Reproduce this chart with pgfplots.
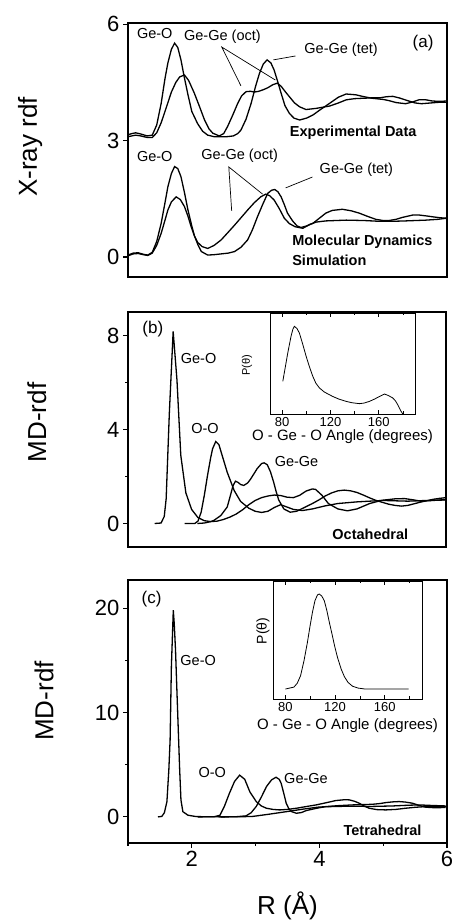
\documentclass[border=0pt]{standalone}
\usepackage{pgfplots}
\pgfplotsset{compat=1.18}
\usepackage{fontspec}
\setmainfont{Liberation Sans}
\newcommand{\lab}{\fontsize{14.5}{17}\selectfont}
\pgfplotsset{
  mainax/.style={scale only axis, anchor=south west, xmin=1, xmax=6,
    axis line style={line width=1.1pt}, tick style={line width=1.1pt, black},
    tick align=outside, ytick pos=left, xtick pos=left,
    major tick length=5pt, minor tick length=3pt,
    tick label style={font=\fontsize{22}{24}\selectfont},
    label style={font=\fontsize{26}{30}\selectfont},
    /pgf/number format/assume math mode=true,
    every axis plot post/.append style={black, line width=1.3pt, mark=none}},
  inax/.style={scale only axis, anchor=south west, xmin=70, xmax=190,
    axis background/.style={fill=white},
    axis line style={line width=0.8pt}, tick style={line width=0.8pt, black},
    tick align=inside, xtick={80,120,160}, minor xtick={100,140,180}, ytick=\empty,
    major tick length=4pt, minor tick length=2.5pt,
    tick label style={font=\fontsize{13}{15}\selectfont},
    /pgf/number format/assume math mode=true,
    every axis plot post/.append style={black, line width=0.8pt, mark=none}},
}
\begin{document}
\begin{tikzpicture}[x=1pt,y=1pt]
\path[use as bounding box] (0,0) rectangle (454,920);
% ---------------- panel (a)
\begin{axis}[mainax, at={(128pt,643pt)}, width=319pt, height=254pt,
  ymin=-0.515, ymax=6.03, ytick={0,3,6}, xtick=\empty,
  ylabel={X-ray rdf}, ylabel style={at={(axis description cs:-0.307,0.512)}, anchor=center}]
\addplot coordinates {(1.0,3.15) (1.06,3.18) (1.12,3.20) (1.2,3.17) (1.3,3.12) (1.38,3.14) (1.45,3.4) (1.52,3.96) (1.58,4.6) (1.625,5.0) (1.68,5.35) (1.73,5.51) (1.78,5.4) (1.83,5.08) (1.88,4.65) (1.94,4.18) (2.0,3.75) (2.09,3.44) (2.17,3.24) (2.25,3.14) (2.35,3.10) (2.45,3.10) (2.55,3.10) (2.65,3.12) (2.72,3.18) (2.77,3.27) (2.85,3.55) (2.93,3.96) (3.0,4.4) (3.06,4.73) (3.12,4.97) (3.18,5.08) (3.24,5.0) (3.29,4.82) (3.35,4.5) (3.4,4.22) (3.46,3.9) (3.53,3.70) (3.6,3.58) (3.69,3.53) (3.8,3.58) (3.9,3.66) (4.0,3.78) (4.16,3.96) (4.3,4.12) (4.42,4.2) (4.57,4.18) (4.7,4.13) (4.83,4.09) (5.0,4.06) (5.09,4.03) (5.2,3.98) (5.35,3.95) (5.45,3.99) (5.56,4.05) (5.67,4.05) (5.77,4.02) (5.88,4.01) (6.0,4.02)};
\addplot coordinates {(1.0,3.1) (1.06,3.12) (1.12,3.14) (1.2,3.12) (1.3,3.08) (1.38,3.08) (1.45,3.2) (1.52,3.46) (1.6,3.85) (1.68,4.25) (1.75,4.5) (1.81,4.64) (1.885,4.69) (1.95,4.55) (2.04,4.22) (2.12,3.88) (2.2,3.53) (2.27,3.3) (2.33,3.19) (2.43,3.12) (2.5,3.18) (2.56,3.36) (2.64,3.65) (2.72,3.96) (2.78,4.15) (2.85,4.26) (2.92,4.27) (2.98,4.25) (3.05,4.27) (3.12,4.31) (3.19,4.36) (3.27,4.44) (3.34,4.48) (3.4,4.4) (3.47,4.25) (3.53,4.13) (3.61,3.97) (3.69,3.87) (3.79,3.8) (3.95,3.83) (4.16,3.89) (4.3,3.97) (4.42,4.05) (4.55,4.08) (4.68,4.09) (4.81,4.1) (4.94,4.1) (5.05,4.13) (5.15,4.14) (5.25,4.1) (5.4,4.02) (5.5,3.97) (5.6,3.95) (5.75,3.97) (5.9,3.99) (6.0,3.99)};
\addplot coordinates {(1.0,0.05) (1.08,0.1) (1.16,0.11) (1.24,0.07) (1.31,0.05) (1.38,0.12) (1.45,0.4) (1.52,0.87) (1.58,1.4) (1.625,1.81) (1.68,2.15) (1.73,2.33) (1.78,2.28) (1.83,2.07) (1.88,1.7) (1.94,1.21) (2.0,0.8) (2.04,0.55) (2.1,0.3) (2.15,0.14) (2.25,0.05) (2.35,0.06) (2.46,0.08) (2.57,0.1) (2.67,0.14) (2.77,0.25) (2.875,0.44) (2.95,0.7) (3.03,1.04) (3.11,1.35) (3.19,1.64) (3.25,1.72) (3.3,1.74) (3.35,1.68) (3.4,1.55) (3.45,1.35) (3.5,1.13) (3.58,0.93) (3.65,0.8) (3.71,0.76) (3.8,0.8) (3.9,0.87) (4.0,1.0) (4.1,1.13) (4.2,1.2) (4.36,1.23) (4.5,1.19) (4.625,1.13) (4.75,1.05) (4.885,0.97) (5.0,0.94) (5.09,0.94) (5.2,0.97) (5.3,1.02) (5.46,1.08) (5.57,1.08) (5.67,1.06) (5.8,1.03) (5.9,1.01) (6.0,1.0)};
\addplot coordinates {(1.0,0.03) (1.08,0.08) (1.16,0.09) (1.24,0.06) (1.31,0.04) (1.38,0.1) (1.45,0.3) (1.52,0.61) (1.58,0.95) (1.625,1.21) (1.68,1.42) (1.755,1.55) (1.82,1.48) (1.885,1.30) (1.94,1.05) (1.99,0.78) (2.04,0.55) (2.09,0.38) (2.16,0.27) (2.25,0.22) (2.35,0.3) (2.46,0.44) (2.56,0.62) (2.67,0.82) (2.77,1.01) (2.875,1.21) (2.98,1.4) (3.08,1.55) (3.16,1.62) (3.22,1.58) (3.29,1.47) (3.37,1.25) (3.45,1.0) (3.53,0.86) (3.62,0.78) (3.74,0.74) (3.85,0.84) (3.95,0.9) (4.1,0.93) (4.42,0.95) (4.7,0.94) (4.94,0.92) (5.15,0.92) (5.35,0.93) (5.67,0.95) (5.85,0.97) (6.0,1.0)};
\node[font=\lab] at (axis cs:1.42,5.77) {Ge-O};
\node[font=\lab] at (axis cs:2.48,5.67) {Ge-Ge (oct)};
\node[font=\lab] at (axis cs:4.34,5.34) {Ge-Ge (tet)};
\node[font=\fontsize{17}{20}\selectfont] at (axis cs:5.625,5.52) {(a)};
\node[font=\lab\bfseries] at (axis cs:4.53,3.2) {Experimental Data};
\node[font=\lab] at (axis cs:1.42,2.58) {Ge-O};
\node[font=\lab] at (axis cs:2.75,2.6) {Ge-Ge (oct)};
\node[font=\lab] at (axis cs:4.58,2.24) {Ge-Ge (tet)};
\node[font=\lab\bfseries, anchor=west] at (axis cs:3.52,0.39) {Molecular Dynamics};
\node[font=\lab\bfseries, anchor=west] at (axis cs:3.52,-0.08) {Simulation};
\draw[line width=0.7pt] (axis cs:2.77,4.41) -- (axis cs:2.47,5.41) -- (axis cs:3.31,4.56);
\draw[line width=0.7pt] (axis cs:3.625,5.18) -- (axis cs:3.28,5.08);
\draw[line width=0.7pt] (axis cs:2.625,1.19) -- (axis cs:2.58,2.32) -- (axis cs:3.11,1.62);
\draw[line width=0.7pt] (axis cs:3.89,2.06) -- (axis cs:3.47,1.78);
\end{axis}
% ---------------- panel (b)
\begin{axis}[mainax, at={(128pt,373pt)}, width=318pt, height=235pt,
  ymin=-1, ymax=9, ytick={0,4,8}, minor ytick={2,6}, xtick=\empty,
  ylabel={MD-rdf}, ylabel style={at={(axis description cs:-0.287,0.53)}, anchor=center}]
\addplot coordinates {(1.42,0) (1.52,0.02) (1.57,0.3) (1.60,1.05) (1.65,4.7) (1.71,8.17) (1.77,6.1) (1.83,2.9) (1.91,1.3) (2.0,0.6) (2.1,0.25) (2.2,0.12) (2.3,0.08) (2.4,0.1) (2.5,0.17) (2.6,0.27) (2.7,0.4) (2.8,0.58) (2.9,0.8) (3.0,0.98) (3.1,1.1) (3.2,1.17) (3.3,1.21) (3.4,1.19) (3.5,1.12) (3.6,1.1) (3.7,1.2) (3.8,1.38) (3.9,1.47) (3.95,1.45) (4.05,1.2) (4.15,0.85) (4.3,0.62) (4.45,0.54) (4.6,0.62) (4.8,0.85) (5.0,0.99) (5.2,1.05) (5.35,1.06) (5.5,1.0) (5.6,0.95) (5.8,0.98) (6.0,1.02)};
\addplot coordinates {(1.89,0) (2.05,0.0) (2.1,0.1) (2.15,0.48) (2.2,1.2) (2.25,2.04) (2.3,2.8) (2.33,3.18) (2.38,3.49) (2.43,3.35) (2.48,2.9) (2.56,2.18) (2.67,1.4) (2.77,0.94) (2.9,0.65) (3.0,0.52) (3.1,0.47) (3.2,0.52) (3.3,0.68) (3.4,0.8) (3.5,0.7) (3.6,0.6) (3.74,0.55) (3.9,0.62) (4.1,0.75) (4.3,0.85) (4.6,0.92) (5.0,0.98) (5.4,0.95) (5.7,0.98) (6.0,1.0)};
\addplot coordinates {(2.09,0) (2.2,0.02) (2.3,0.08) (2.35,0.13) (2.46,0.34) (2.56,0.7) (2.61,1.19) (2.65,1.6) (2.69,1.8) (2.73,1.75) (2.77,1.66) (2.82,1.62) (2.88,1.72) (2.93,1.9) (3.03,2.33) (3.1,2.55) (3.14,2.58) (3.19,2.5) (3.24,2.2) (3.29,1.76) (3.33,1.35) (3.37,1.0) (3.45,0.62) (3.55,0.48) (3.65,0.52) (3.75,0.65) (3.9,0.85) (4.0,1.0) (4.1,1.17) (4.2,1.3) (4.3,1.39) (4.4,1.42) (4.5,1.39) (4.6,1.32) (4.7,1.21) (4.8,1.09) (4.9,0.98) (5.0,0.9) (5.1,0.82) (5.2,0.77) (5.3,0.74) (5.4,0.77) (5.5,0.84) (5.6,0.91) (5.7,0.97) (5.8,1.03) (5.9,1.07) (6.0,1.1)};
\node[font=\fontsize{17}{20}\selectfont] at (axis cs:1.39,8.26) {(b)};
\node[font=\lab] at (axis cs:2.11,7.0) {Ge-O};
\node[font=\lab] at (axis cs:2.21,4.04) {O-O};
\node[font=\lab] at (axis cs:3.65,2.62) {Ge-Ge};
\node[font=\lab\bfseries] at (axis cs:4.81,-0.47) {Octahedral};
\end{axis}
% inset (b)
\begin{axis}[inax, at={(270pt,506pt)}, width=145pt, height=101pt, ymin=0, ymax=1.152,
  xlabel={O - Ge - O Angle (degrees)}, xlabel style={font=\fontsize{15}{17}\selectfont, at={(axis description cs:0.5,-0.228)}, anchor=center},
  ylabel={P(θ)}, ylabel style={font=\fontsize{11}{13}\selectfont, at={(axis description cs:-0.159,0.485)}, anchor=center}]
\addplot coordinates {(80.6,0.373) (82.6,0.53) (84.7,0.696) (87.4,0.886) (89.0,0.97) (90.2,1.0) (92.3,0.975) (94.3,0.924) (97.0,0.80) (99.9,0.658) (102.6,0.54) (105.4,0.43) (108.0,0.35) (110.9,0.297) (115.0,0.25) (121.9,0.2) (127.0,0.17) (133.0,0.144) (138.0,0.128) (144.0,0.118) (148.0,0.125) (152.3,0.144) (156.5,0.17) (160.6,0.2) (164.7,0.228) (168.0,0.21) (171.6,0.183) (173.8,0.15) (175.7,0.106) (178.5,0.03) (179.9,0)};
\end{axis}
% ---------------- panel (c)
\begin{axis}[mainax, at={(128pt,77pt)}, width=319pt, height=263pt,
  ymin=-2.5, ymax=22.7, ytick={0,10,20}, minor ytick={5,15},
  xtick={2,4,6}, minor xtick={1,3,5},
  ylabel={MD-rdf}, ylabel style={at={(axis description cs:-0.263,0.54)}, anchor=center},
  xlabel={R (Å)}, xlabel style={at={(axis description cs:0.5,-0.24)}, anchor=center}]
\addplot coordinates {(1.47,0) (1.53,0.05) (1.57,0.4) (1.61,1.46) (1.64,4.5) (1.66,7.36) (1.68,14.4) (1.71,19.8) (1.725,18.5) (1.745,15.95) (1.77,11.5) (1.79,8.0) (1.81,4.5) (1.83,1.62) (1.86,0.5) (1.94,0.16) (2.07,0.03) (2.5,0.0) (2.8,0.02) (2.96,0.05) (3.2,0.25) (3.48,0.5) (3.75,0.75) (4.0,0.95) (4.25,1.0) (4.52,1.03) (4.8,1.0) (5.15,1.05) (5.4,1.12) (5.56,1.15) (5.75,1.1) (5.98,1.05)};
\addplot coordinates {(2.1,0) (2.35,0.02) (2.44,0.15) (2.51,1.0) (2.59,2.27) (2.67,3.4) (2.75,4.0) (2.83,3.6) (2.91,2.4) (3.01,1.47) (3.09,1.05) (3.17,0.83) (3.27,0.72) (3.375,0.67) (3.5,0.72) (3.64,0.83) (3.8,1.0) (3.95,1.15) (4.1,1.35) (4.26,1.57) (4.4,1.65) (4.47,1.63) (4.55,1.5) (4.625,1.31) (4.7,1.05) (4.78,0.83) (4.9,0.7) (5.04,0.67) (5.2,0.72) (5.35,0.83) (5.5,0.92) (5.67,0.99) (5.85,1.0) (6.0,0.99)};
\addplot coordinates {(2.45,0) (2.7,0.02) (2.85,0.1) (2.93,0.4) (3.01,1.0) (3.09,1.9) (3.17,2.9) (3.25,3.55) (3.32,3.8) (3.37,3.6) (3.4,3.23) (3.44,2.3) (3.48,1.31) (3.52,0.8) (3.56,0.51) (3.64,0.35) (3.72,0.42) (3.79,0.6) (3.95,0.82) (4.1,0.99) (4.3,1.08) (4.52,1.15) (4.7,1.18) (4.83,1.21) (4.95,1.28) (5.04,1.37) (5.15,1.44) (5.25,1.47) (5.35,1.42) (5.46,1.31) (5.56,1.1) (5.67,0.93) (5.8,0.88) (5.98,0.9)};
\node[font=\fontsize{17}{20}\selectfont] at (axis cs:1.37,20.9) {(c)};
\node[font=\lab] at (axis cs:2.10,14.96) {Ge-O};
\node[font=\lab] at (axis cs:2.32,4.25) {O-O};
\node[font=\lab] at (axis cs:3.79,3.71) {Ge-Ge};
\node[font=\lab\bfseries] at (axis cs:4.99,-1.31) {Tetrahedral};
\end{axis}
% inset (c)
\begin{axis}[inax, at={(273pt,221pt)}, width=149pt, height=118pt, ymin=-0.105, ymax=1.137,
  xlabel={O - Ge - O Angle (degrees)}, xlabel style={font=\fontsize{15}{17}\selectfont, at={(axis description cs:0.5,-0.229)}, anchor=center},
  ylabel={P(θ)}, ylabel style={font=\fontsize{14}{16}\selectfont, at={(axis description cs:-0.067,0.576)}, anchor=center}]
\addplot coordinates {(80,0) (86.8,0.02) (89.5,0.06) (92.2,0.14) (95.0,0.30) (97.7,0.49) (99.8,0.66) (101.8,0.81) (103.8,0.93) (105.8,0.99) (107.2,1.0) (109.2,0.98) (111.3,0.93) (113.3,0.83) (115.4,0.70) (117.5,0.58) (119.5,0.46) (122.0,0.33) (124.9,0.21) (127.5,0.13) (130.4,0.07) (134.0,0.03) (138.5,0.01) (144,0) (160,0) (179.3,0)};
\end{axis}
\end{tikzpicture}
\end{document}
